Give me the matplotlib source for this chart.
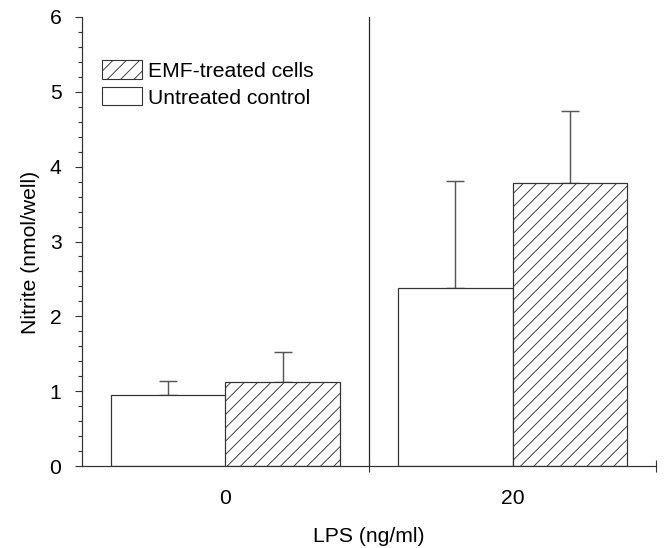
import numpy as np
import matplotlib
matplotlib.use('Agg')
from matplotlib import pyplot as plt
from matplotlib.patches import Patch

plt.rcParams['font.family'] = ['Liberation Sans', 'DejaVu Sans']
plt.rcParams['hatch.linewidth'] = 0.8

# datos
lps = ['0', '20']
control = [0.95, 2.38]
control_err = [0.18, 1.43]
emf = [1.12, 3.78]
emf_err = [0.40, 0.97]

fs = 19
fig = plt.figure(figsize=(8.3, 6.85), dpi=80)
ax = fig.add_axes([82/664, 1-466/548, (656-82)/664, (466-17)/548])

x = np.arange(len(lps)) + 0.5
w = 0.4
edge = '#333333'
ax.bar(x - w/2, control, w, color='white', edgecolor=edge, linewidth=1.1, zorder=2)
ax.bar(x + w/2, emf, w, color='white', edgecolor=edge, hatch='//', linewidth=1.1, zorder=2)
ax.errorbar(x - w/2, control, yerr=[np.zeros(len(lps)), control_err], fmt='none',
            ecolor='#555555', elinewidth=1.3, capsize=8, capthick=1.3, zorder=1)
ax.errorbar(x + w/2, emf, yerr=[np.zeros(len(lps)), emf_err], fmt='none',
            ecolor='#555555', elinewidth=1.3, capsize=8, capthick=1.3, zorder=1)

ax.axvline(1, color='#222222', lw=1.1, zorder=0)

ax.set_xlim(0, 2)
ax.set_ylim(0, 6)
ax.spines['top'].set_visible(False)
ax.spines['right'].set_visible(False)
for s in ['left', 'bottom']:
    ax.spines[s].set_color('#333333')
    ax.spines[s].set_linewidth(1.1)

ax.set_yticks(range(0, 7))
ax.set_yticks(np.arange(0, 6.01, 0.2), minor=True)
ax.tick_params(axis='y', which='major', length=6.5, width=1, direction='out', labelsize=fs, pad=12, color='#333333')
ax.tick_params(axis='y', which='minor', length=3.5, width=1, direction='out', color='#333333')

ax.set_xticks([1, 2])
ax.set_xticklabels(['', ''])
ax.set_xticks(x, minor=True)
ax.set_xticklabels(lps, minor=True)
ax.tick_params(axis='x', which='major', length=10, width=1, direction='inout', color='#333333')
ax.tick_params(axis='x', which='minor', length=0, labelsize=fs, pad=21)

ax.set_ylabel('Nitrite (nmol/well)', fontsize=fs)
ax.yaxis.set_label_coords(-0.073, 0.475)
ax.set_xlabel('LPS (ng/ml)', fontsize=fs)
ax.xaxis.set_label_coords(0.5, -0.135)

handles = [Patch(facecolor='white', edgecolor=edge, hatch='//', label='EMF-treated cells'),
           Patch(facecolor='white', edgecolor=edge, label='Untreated control')]
ax.legend(handles=handles, loc='upper left', bbox_to_anchor=(0.021, 0.922), frameon=False,
          fontsize=fs, handlelength=1.85, handleheight=0.95, handletextpad=0.3, labelspacing=0.3,
          borderaxespad=0)

fig.savefig('out.png', dpi=80)
